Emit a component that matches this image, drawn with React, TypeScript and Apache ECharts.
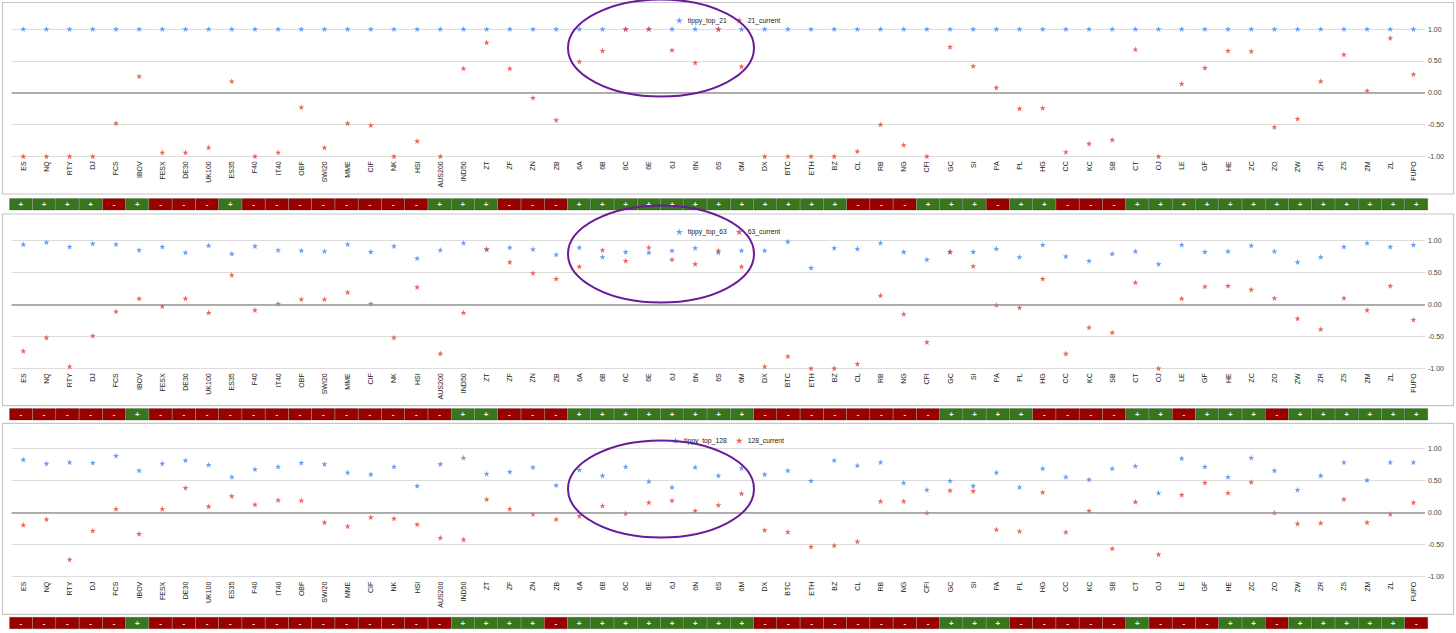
import React, { useEffect, useRef } from 'react';
import * as echarts from 'echarts';

const categories = ['ES','NQ','RTY','DJ','FCS','IBOV','FESX','DE30','UK100','ES35','F40','IT40','OBF','SWI20','MME','CIF','NK','HSI','AUS200','IND50','ZT','ZF','ZN','ZB','6A','6B','6C','6E','6J','6N','6S','6M','DX','BTC','ETH','BZ','CL','RB','NG','CFI','GC','SI','PA','PL','HG','CC','KC','SB','CT','OJ','LE','GF','HE','ZC','ZO','ZW','ZR','ZS','ZM','ZL','FUPO'];

const yTicks = [-1, -0.5, 0, 0.5, 1];

const top21 = [1,1,1,1,1,1,1,1,1,1,1,1,1,1,1,1,1,1,1,1,1,1,1,1,1,1,1,1,1,1,1,1,1,1,1,1,1,1,1,1,1,1,1,1,1,1,1,1,1,1,1,1,1,1,1,1,1,1,1,1,1];
const cur21 = [-1.00,-1.00,-1.00,-1.00,-0.48,0.26,-0.94,-0.94,-0.86,0.18,-1.00,-0.94,-0.23,-0.86,-0.48,-0.51,-1.00,-0.76,-1.00,0.38,
  0.79,0.38,-0.08,-0.43,
  0.49,0.66,1.00,1.00,0.67,0.47,1.00,0.41,
  -1.00,-1.00,-1.00,-1.00,-0.92,-0.50,-0.82,-1.00,0.72,0.42,
  0.08,-0.25,-0.24,-0.93,-0.80,-0.74,0.68,-1.00,0.14,0.39,0.66,0.65,-0.54,-0.41,0.18,0.60,0.03,0.86,0.29];

const top63 = [0.94,0.97,0.90,0.95,0.94,0.85,0.90,0.81,0.92,0.79,0.91,0.85,0.84,0.83,0.94,0.82,0.91,0.72,0.85,0.96,
  0.86,0.89,0.86,0.78,
  0.89,0.74,0.82,0.81,0.84,0.88,0.81,0.84,
  0.84,0.98,0.57,0.88,0.87,0.96,0.82,0.70,0.82,0.82,
  0.87,0.74,0.93,0.75,0.68,0.79,0.83,0.63,0.93,0.82,0.83,0.92,0.83,0.66,0.74,0.90,0.96,0.90,0.93];
const cur63 = [-0.73,-0.52,-0.97,-0.49,-0.11,0.09,-0.03,0.09,-0.13,0.46,-0.09,0.01,0.08,0.08,0.19,0.01,-0.52,0.27,-0.77,-0.13,
  0.86,0.66,0.49,0.40,
  0.59,0.85,0.68,0.89,0.70,0.63,0.84,0.59,
  -0.97,-0.81,-1.00,-1.00,-0.93,0.14,-0.15,-0.59,0.82,0.60,
  -0.01,-0.05,0.40,-0.77,-0.36,-0.44,0.34,-1.00,0.09,0.28,0.29,0.23,0.10,-0.22,-0.39,0.10,-0.09,0.29,-0.24];

const top128 = [0.83,0.77,0.79,0.78,0.89,0.66,0.77,0.82,0.75,0.56,0.68,0.72,0.78,0.76,0.63,0.60,0.72,0.42,0.76,0.86,
  0.61,0.64,0.71,0.43,
  0.67,0.58,0.72,0.49,0.40,0.71,0.58,0.70,
  0.60,0.66,0.50,0.82,0.74,0.79,0.47,0.36,0.50,0.42,
  0.63,0.40,0.69,0.56,0.52,0.69,0.73,0.31,0.85,0.72,0.56,0.86,0.66,0.36,0.58,0.79,0.51,0.79,0.79];
const cur128 = [-0.19,-0.10,-0.73,-0.28,0.06,-0.33,0.06,0.39,0.10,0.26,0.13,0.20,0.19,-0.15,-0.21,-0.07,-0.09,-0.18,-0.39,-0.42,
  0.21,0.06,-0.02,-0.10,
  -0.05,0.11,-0.01,0.16,0.19,0.03,0.12,0.30,
  -0.27,-0.30,-0.53,-0.51,-0.45,0.18,0.18,0.00,0.35,0.34,
  -0.26,-0.29,0.32,-0.30,0.03,-0.56,0.17,-0.65,0.28,0.47,0.31,0.48,0.00,-0.17,-0.16,0.21,-0.15,-0.02,0.16];

const sign21 = ['+','+','+','+','-','+','-','-','-','+','-','-','-','-','-','-','-','-','+','+',
  '+','-','-','-',
  '+','+','+','+','+','+','+','+',
  '+','+','+','+','-','-','-','+','+','+',
  '-','+','+','-','-','-','+','+','+','+','+','+','+','+','+','+','+','+','+'];
const sign63 = ['-','-','-','-','-','+','-','-','-','-','-','-','-','-','-','-','-','-','-','+',
  '+','-','-','-',
  '+','+','+','+','+','+','+','+',
  '-','-','-','-','-','-','-','-','+','+',
  '+','+','-','-','-','-','+','+','-','+','+','+','-','+','+','+','+','+','+'];
const sign128 = ['-','-','-','-','-','+','-','-','-','-','-','-','-','-','-','-','-','-','-','+',
  '+','+','+','-',
  '+','+','+','+','+','+','+','+',
  '-','-','-','-','-','-','-','-','+','+',
  '+','-','-','-','-','-','+','-','-','-','+','+','-','+','+','+','+','+','-'];

const seriesNames = [
  ['tippy_top_21', '21_current'],
  ['tippy_top_63', '63_current'],
  ['tippy_top_128', '128_current'],
];

const STAR = 'path://M50,0L61.23,34.55L97.55,34.55L68.17,55.9L79.39,90.45L50,69.1L20.61,90.45L31.83,55.9L2.45,34.55L38.77,34.55Z';
const BLUE = '#4285f4';
const RED = '#e8402f';
const GREEN_CELL = '#38761d';
const RED_CELL = '#990000';
const FONT = '"Liberation Sans", Arial, sans-serif';

const panelData = [
  { top: top21, cur: cur21, signs: sign21 },
  { top: top63, cur: cur63, signs: sign63 },
  { top: top128, cur: cur128, signs: sign128 },
];

const layout = [
  { gridTop: 29, gridH: 127.3, legendTop: 11.8, cellTop: 198.3, frameY: 2.5, frameH: 191.5, ellCy: 48 },
  { gridTop: 240.3, gridH: 128, legendTop: 223.3, cellTop: 408.3, frameY: 214, frameH: 191.7, ellCy: 254 },
  { gridTop: 448.7, gridH: 128, legendTop: 432, cellTop: 617, frameY: 423.3, frameH: 191, ellCy: 489 },
];

export default function App() {
  const ref = useRef<HTMLDivElement>(null);
  useEffect(() => {
    document.body.style.margin = '0';
    if (!ref.current) return;
    const chart = echarts.init(ref.current, null, { renderer: 'svg' });
    const grid: any[] = [];
    const xAxis: any[] = [];
    const yAxis: any[] = [];
    const series: any[] = [];
    const legend: any[] = [];
    const graphic: any[] = [];

    layout.forEach((L, i) => {
      const P = panelData[i];
      const [nTop, nCur] = seriesNames[i];
      grid.push({ left: 11.7, right: 31, top: L.gridTop, height: L.gridH, containLabel: false });
      xAxis.push({
        type: 'category', gridIndex: grid.length - 1, data: categories, boundaryGap: true,
        axisLine: { show: false }, axisTick: { show: false }, splitLine: { show: false },
        axisLabel: { rotate: 90, interval: 0, fontSize: 7, color: '#222', margin: 5, fontFamily: FONT },
      });
      yAxis.push({
        type: 'value', gridIndex: grid.length - 1, min: yTicks[0], max: yTicks[yTicks.length - 1], interval: 0.5,
        position: 'right',
        axisLine: { show: false }, axisTick: { show: false },
        axisLabel: { fontSize: 7, color: '#444', margin: 3, fontFamily: FONT, formatter: (v: number) => v.toFixed(2) },
        splitLine: { lineStyle: { color: '#dcdcdc', width: 1 } },
      });
      const gi = grid.length - 1;
      series.push({
        type: 'scatter', name: nTop, xAxisIndex: gi, yAxisIndex: gi, data: P.top,
        symbol: STAR, symbolSize: 6, itemStyle: { color: BLUE }, z: 3,
        markLine: {
          silent: true, symbol: ['none', 'none'], label: { show: false },
          lineStyle: { color: '#999999', width: 1.5, type: 'solid' },
          data: [{ yAxis: 0 }],
        },
      });
      series.push({
        type: 'scatter', name: nCur, xAxisIndex: gi, yAxisIndex: gi, data: P.cur,
        symbol: STAR, symbolSize: 6, itemStyle: { color: RED }, z: 4,
      });
      legend.push({
        data: [nTop, nCur], top: L.legendTop, left: 'center', icon: STAR,
        itemWidth: 7, itemHeight: 7, itemGap: 9, selectedMode: false,
        textStyle: { fontSize: 6.8, color: '#222', fontFamily: FONT },
      });

      grid.push({ left: 9.3, right: 28, top: L.cellTop, height: 12 });
      const ci = grid.length - 1;
      xAxis.push({ type: 'category', gridIndex: ci, data: categories, show: false });
      yAxis.push({ type: 'value', gridIndex: ci, min: 0, max: 1, show: false });
      series.push({
        type: 'bar', xAxisIndex: ci, yAxisIndex: ci, barWidth: '100%', barCategoryGap: 0,
        data: P.signs.map((s) => ({
          value: 1,
          itemStyle: { color: s === '+' ? GREEN_CELL : RED_CELL, borderColor: 'rgba(0,0,0,0.35)', borderWidth: 0.5 },
        })),
        label: {
          show: true, position: 'inside', color: '#fff', fontSize: 8, fontWeight: 'bold', fontFamily: FONT,
          formatter: (p: any) => P.signs[p.dataIndex],
        },
        silent: true,
      });

      graphic.push({
        type: 'rect', shape: { x: 2.5, y: L.frameY, width: 1451, height: L.frameH },
        style: { fill: 'none', stroke: '#c6c6c6', lineWidth: 1.2 }, z: -10, silent: true,
      });
      graphic.push({
        type: 'ellipse', shape: { cx: 661, cy: L.ellCy, rx: 93, ry: 48.5 },
        style: { fill: 'none', stroke: '#6a1b9a', lineWidth: 2 }, z: 100, silent: true,
      });
    });

    chart.setOption({
      animation: false,
      backgroundColor: '#ffffff',
      textStyle: { fontFamily: FONT },
      grid, xAxis, yAxis, series, legend, graphic,
    });
    return () => chart.dispose();
  }, []);
  return <div ref={ref} style={{ position: 'absolute', left: 0, top: 0, width: 1456, height: 633 }} />;
}
